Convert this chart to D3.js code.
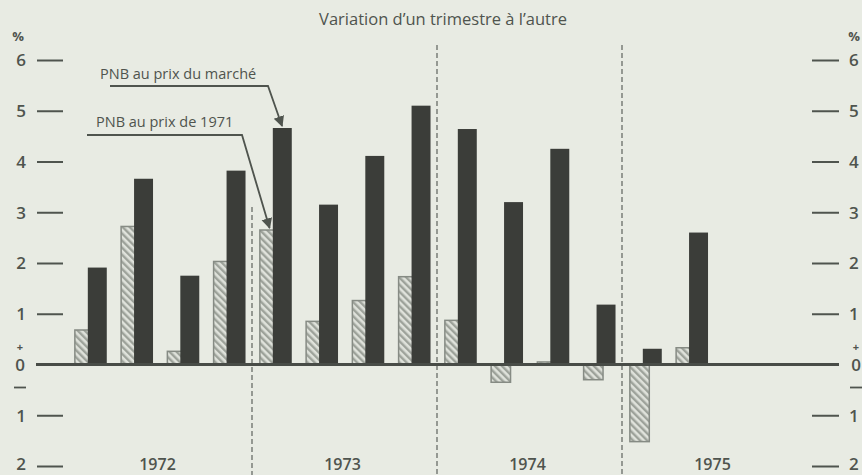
<!DOCTYPE html>
<html><head><meta charset="utf-8">
<script src="https://cdn.jsdelivr.net/npm/d3@7"></script>
<style>
html,body{margin:0;padding:0;background:#e8ebe3;}
svg{display:block;}
text{font-family:"Open Sans",sans-serif;fill:#4f544e;}
</style></head>
<body>
<script>
const years = ["1972","1973","1974","1975"];
const quarters = ["1972T1","1972T2","1972T3","1972T4","1973T1","1973T2","1973T3","1973T4",
                  "1974T1","1974T2","1974T3","1974T4","1975T1","1975T2","1975T3","1975T4"];
const prix1971 = [0.68, 2.72, 0.26, 2.03, 2.65, 0.85, 1.26, 1.73, 0.87, -0.35, 0.05, -0.30, -1.52, 0.33, null, null];
const prixMarche = [1.91, 3.66, 1.75, 3.82, 4.66, 3.15, 4.11, 5.10, 4.64, 3.20, 4.25, 1.18, 0.31, 2.60, null, null];
const tickValues = [6,5,4,3,2,1,-1,-2];
const title = "Variation d\u2019un trimestre à l\u2019autre";
const labelMarche = "PNB au prix du marché";
const label1971 = "PNB au prix de 1971";

const W = 862, H = 475;
const svg = d3.select("body").append("svg").attr("width", W).attr("height", H);
const defs = svg.append("defs");
const pat = defs.append("pattern").attr("id","hatch").attr("patternUnits","userSpaceOnUse")
  .attr("width",5).attr("height",5).attr("patternTransform","rotate(-45)");
pat.append("rect").attr("width",5).attr("height",5).attr("fill","#dfe2db");
pat.append("rect").attr("width",2.4).attr("height",5).attr("fill","#9da29a");

const y = d3.scaleLinear().domain([-2, 6]).range([466, 60]);
const x = d3.scaleBand().domain(quarters).range([67, 807]).paddingInner(0).paddingOuter(0);
const xYear = d3.scaleBand().domain(years).range([67, 807]);
const sub = d3.scaleLinear().domain([0,1]).range([0, x.bandwidth()]);

// title
svg.append("text").attr("x", 443).attr("y", 25).attr("text-anchor","middle")
  .style("font-size","16.5px").text(title);

// dashed year separators
const seps = years.slice(1).map(yv => xYear(yv));
svg.selectAll("line.sep").data(seps).join("line").attr("class","sep")
  .attr("x1", d => d).attr("x2", d => d)
  .attr("y1", (d,i) => i === 0 ? 207 : 45).attr("y2", H)
  .attr("stroke","#5e635d").attr("stroke-width",1.2).attr("stroke-dasharray","5,3");

// axes
function styleAxis(g, side) {
  g.select(".domain").remove();
  g.selectAll(".tick text").attr("x", side === "L" ? -4 : 4)
    .attr("dy", d => d === -2 ? "0.22em" : "0.35em")
    .style("font-size","17px").style("font-weight","600").attr("fill","#4f544e")
    .style("font-family","'Open Sans',sans-serif");
  g.selectAll(".tick").append("line")
    .attr("x1", side === "L" ? 7 : -33).attr("x2", side === "L" ? 33 : -6)
    .attr("stroke","#4f544e").attr("stroke-width",2);
}
const gL = svg.append("g").attr("transform","translate(30,0)")
  .call(d3.axisLeft(y).tickValues(tickValues).tickSize(0).tickFormat(d => Math.abs(d)));
styleAxis(gL, "L");
const gR = svg.append("g").attr("transform","translate(845,0)")
  .call(d3.axisRight(y).tickValues(tickValues).tickSize(0).tickFormat(d => Math.abs(d)));
styleAxis(gR, "R");

// zero, plus, minus and % labels
[20, 856].forEach(cx => {
  svg.append("text").attr("x", cx).attr("y", y(0) + 1).attr("dy","0.35em").attr("text-anchor","middle")
    .style("font-size","17px").style("font-weight","600").text("0");
  svg.append("text").attr("x", cx).attr("y", y(0) - 14).attr("text-anchor","middle")
    .style("font-size","11px").style("font-weight","700").text("+");
  svg.append("line").attr("x1", cx - 6).attr("x2", cx + 6).attr("y1", y(0) + 23).attr("y2", y(0) + 23)
    .attr("stroke","#4f544e").attr("stroke-width",1.8);
  svg.append("text").attr("x", cx - 2).attr("y", 41).attr("text-anchor","middle")
    .style("font-size","13px").style("font-weight","700").text("%");
});

// bars
const hatchedData = quarters.map((q,i) => ({q, v: prix1971[i]})).filter(d => d.v !== null);
const darkData = quarters.map((q,i) => ({q, v: prixMarche[i]})).filter(d => d.v !== null);

svg.selectAll("rect.h").data(hatchedData).join("rect").attr("class","h")
  .attr("x", d => x(d.q) + sub(0.17)).attr("width", sub(0.42))
  .attr("y", d => y(Math.max(0, d.v))).attr("height", d => Math.abs(y(d.v) - y(0)))
  .attr("fill","url(#hatch)").attr("stroke","#868b84").attr("stroke-width",1.5);

svg.selectAll("rect.d").data(darkData).join("rect").attr("class","d")
  .attr("x", d => x(d.q) + sub(0.45)).attr("width", sub(0.41))
  .attr("y", d => y(Math.max(0, d.v))).attr("height", d => Math.abs(y(d.v) - y(0)))
  .attr("fill","#3b3d39");

// zero line
svg.append("line").attr("x1", 36).attr("x2", 839).attr("y1", y(0)).attr("y2", y(0))
  .attr("stroke","#484c47").attr("stroke-width",3);

// year labels
svg.selectAll("text.year").data(years).join("text").attr("class","year")
  .attr("x", d => xYear(d) + xYear.bandwidth()/2 - 2).attr("y", 470).attr("text-anchor","middle")
  .style("font-size","16px").style("font-weight","600").text(d => d);

// annotations
defs.append("marker").attr("id","arr").attr("viewBox","0 0 10 10").attr("refX",9).attr("refY",5)
  .attr("markerWidth",6).attr("markerHeight",7).attr("orient","auto")
  .append("path").attr("d","M0,0 L10,5 L0,10 z").attr("fill","#4f544e");

const iM = quarters.indexOf("1973T1");
const tipM = [x(quarters[iM]) + sub(0.65), y(prixMarche[iM]) - 2];
svg.append("text").attr("x", 100).attr("y", 79).style("font-size","14.5px").text(labelMarche);
svg.append("path").attr("d", `M110,86 L268,86 L${tipM[0]},${tipM[1]}`)
  .attr("fill","none").attr("stroke","#4f544e").attr("stroke-width",1.8).attr("marker-end","url(#arr)");

const tip1 = [x(quarters[iM]) + sub(0.38), y(prix1971[iM]) - 2];
svg.append("text").attr("x", 96).attr("y", 127).style("font-size","14.5px").text(label1971);
svg.append("path").attr("d", `M87,135 L242,135 L${tip1[0]},${tip1[1]}`)
  .attr("fill","none").attr("stroke","#4f544e").attr("stroke-width",1.8).attr("marker-end","url(#arr)");
</script>
</body></html>
